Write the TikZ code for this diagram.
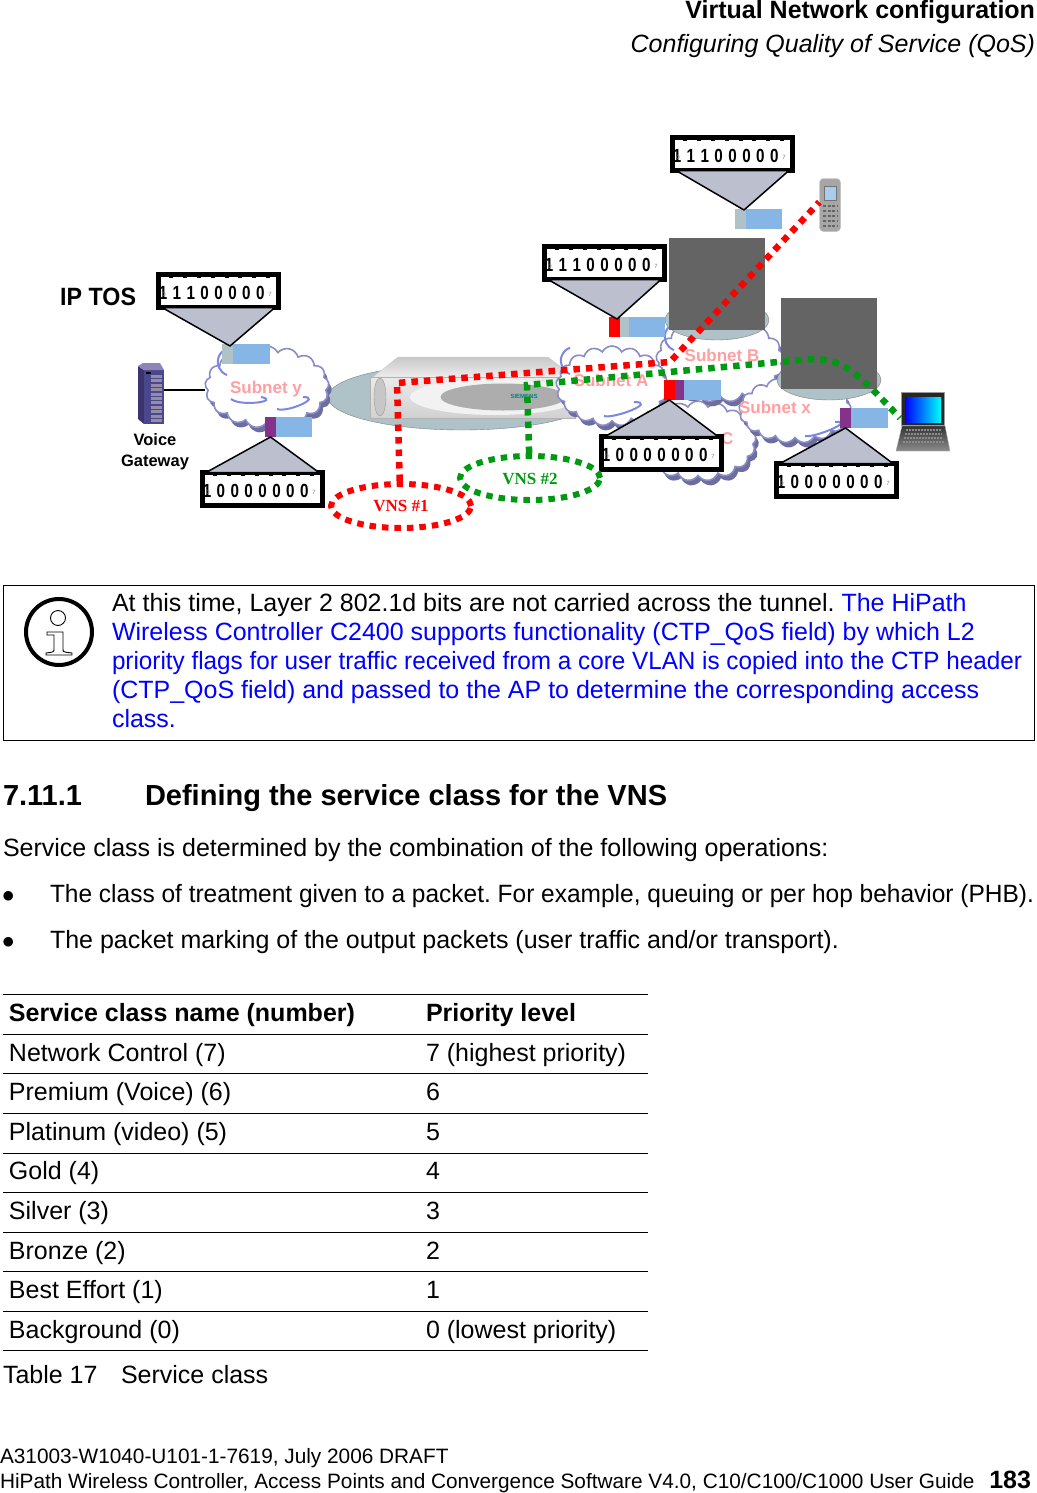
\documentclass[tikz,border=0pt]{standalone}
\usepackage{graphicx}
\usepackage{fontspec}
\setmainfont{Liberation Sans}
\newfontfamily\vnsfont{Liberation Serif}
\frenchspacing
\usetikzlibrary{shapes.geometric,shapes.symbols,positioning,calc,shadows}
\definecolor{flagblue}{HTML}{85B6E6}
\definecolor{flaggrey}{HTML}{AEC2C8}
\definecolor{flagpurple}{HTML}{84328A}
\definecolor{wedgegrey}{HTML}{BCC0CE}
\definecolor{netline}{HTML}{8A8CC8}
\definecolor{netshadow}{HTML}{6E6E9E}
\definecolor{netswirl}{HTML}{7C88E0}
\definecolor{subnetpink}{HTML}{FF9FA2}
\definecolor{vnsgreen}{HTML}{009A12}
\definecolor{darkbox}{HTML}{646464}
\definecolor{gwfront}{HTML}{4A478C}
\definecolor{gwside}{HTML}{3A3570}
\definecolor{gwtop}{HTML}{8F84B8}
\tikzset{
  txt/.style={inner sep=0pt, outer sep=0pt, anchor=base west, font=\fontsize{25}{29}\selectfont},
  flagpart/.style={inner sep=0pt, outer sep=0pt, minimum height=20pt, minimum width=11pt},
  tosframe/.style={draw=black, fill=white, line width=5pt, minimum width=120pt, minimum height=33pt, inner sep=0pt, outer sep=0pt},
  tosdigit/.style={inner sep=0pt, font=\fontsize{19}{19}\selectfont\bfseries},
  tostiny/.style={inner sep=0pt, text=gray, font=\fontsize{6}{6}\selectfont},
  wedge/.style={draw=black, fill=wedgegrey, line width=1.5pt, line join=round},
  subnet/.style={cloud, cloud puffs=17, cloud puff arc=125, draw=netline, fill=white, line width=1.6pt, inner sep=0pt,
    drop shadow={shadow xshift=3pt, shadow yshift=-5pt, opacity=1, fill=netshadow}},
  swirl/.style={draw=netswirl, line width=2pt},
  subnetlabel/.style={inner sep=0pt, text=subnetpink, font=\fontsize{17}{18}\selectfont\bfseries},
  vnsring/.style={ellipse, line width=6pt, dash pattern=on 6.5pt off 6pt, minimum width=140pt, minimum height=44pt, inner sep=0pt},
  vnsline/.style={line width=6.5pt, dash pattern=on 6.5pt off 6pt},
  vnslabel/.style={inner sep=0pt, font=\fontsize{17}{17}\selectfont\vnsfont\bfseries},
  tabrule/.style={draw=black, line width=0.8pt}
}
% box with the eight bits
\newcommand{\tosbox}[4]{
  \node[tosframe] (#1) at (#2,#3) {};
  \foreach \t in {1,...,8} {
    \fill ($(#1.north west)+(13.9*\t-3,0)$) rectangle +(4,3);
    \fill ($(#1.south west)+(13.9*\t-3,0)$) rectangle +(4,-3);
  }
  \foreach \b [count=\i] in {#4} {
    \node[tosdigit] (#1d\i) at ($(#1.west)+(13.9*\i-8.9,1.5)$) {\scalebox{0.8}[1]{\b}};
  }
  \node[tostiny] (#1lo) at ($(#1.west)+(6,3)$) {0};
  \node[tostiny] (#1hi) at ($(#1.east)+(-8,3)$) {7};
}
\newcommand{\tosfunnel}[3]{
  \draw[wedge] ($(#1.#2 west)+(4,0)$) -- (#3) -- ($(#1.#2 east)+(-3,0)$) -- cycle;
}
\begin{document}
\begin{tikzpicture}[x=1pt, y=-1pt]
  \useasboundingbox (0,0) rectangle (1036,1493);

  % page head
  \node[txt, anchor=base east, font=\fontsize{25}{29}\selectfont\bfseries] (headA) at (1035,19) {Virtual Network configuration};
  \node[txt, anchor=base east, font=\fontsize{25}{29}\selectfont\itshape] (headB) at (1035,53) {Configuring Quality of Service (QoS)};

  % controller on its disc
  \node[ellipse, fill=flaggrey, draw=gray, inner sep=0pt, minimum width=268pt, minimum height=66pt] (disc) at (462,397) {};
  \path[top color=black!22, bottom color=black!6, draw=black!20] (373,377) -- (398,357) -- (548,357) -- (575,378) -- cycle;
  \path[top color=black!8, bottom color=black!18, draw=black!30] (370,377) rectangle (575,418);
  \node[ellipse, fill=black!5, inner sep=0pt, minimum width=170pt, minimum height=36pt] (ctrlouter) at (495,397) {};
  \node[ellipse, fill=black!32, inner sep=0pt, minimum width=125pt, minimum height=27pt] (ctrlfront) at (503,397) {};
  \node[ellipse, fill=black!22, draw=black!40, inner sep=0pt, minimum width=12pt, minimum height=38pt] (ctrlside) at (380,397) {};
  \node[inner sep=0pt, text=teal, font=\fontsize{6}{6}\selectfont\bfseries] (ctrlname) at (524,396) {SIEMENS};

  % subnets
  \node[subnet, minimum width=124pt, minimum height=82pt] (netY) at (267,387) {};
  \node[subnet, minimum width=116pt, minimum height=80pt] (netC) at (698,441) {};
  \node[subnet, minimum width=128pt, minimum height=84pt] (netB) at (720,360) {};
  \node[subnet, minimum width=112pt, minimum height=66pt] (netX) at (795,410) {};
  \node[subnet, minimum width=112pt, minimum height=80pt] (netA) at (612,386) {};
  \draw[swirl] ($(netY.center)+(-40,-12)$) arc[start angle=110, end angle=250, radius=14];
  \draw[swirl] ($(netY.center)+(-36,12)$) .. controls +(10,8) and +(20,4) .. +(30,-2);
  \draw[swirl] ($(netY.center)+(10,22)$) .. controls +(10,4) and +(20,0) .. +(26,-12);
  \draw[swirl] ($(netA.center)+(-42,-12)$) arc[start angle=110, end angle=250, radius=14];
  \draw[swirl] ($(netA.center)+(-8,30)$) .. controls +(10,3) and +(24,0) .. +(30,-14);
  \draw[swirl] ($(netB.center)+(-46,-10)$) arc[start angle=110, end angle=250, radius=14];
  \draw[swirl] ($(netX.center)+(10,26)$) .. controls +(10,2) and +(22,-2) .. +(30,-14);
  \node[subnetlabel] (labY) at (266,389) {Subnet y};
  \node[subnetlabel] (labA) at (611,380) {Subnet A};
  \node[subnetlabel] (labB) at (722,355) {Subnet B};
  \node[subnetlabel] (labX) at (775,407) {Subnet x};
  \node[subnetlabel] (labC) at (696,438) {Subnet C};

  % access points
  \node[ellipse, fill=flaggrey, draw=gray, inner sep=0pt, minimum width=104pt, minimum height=40pt] (discB) at (717,320) {};
  \node[fill=darkbox, inner sep=0pt, minimum width=96pt, minimum height=92pt] (apB) at (717,284) {};
  \node[ellipse, fill=flaggrey, draw=gray, inner sep=0pt, minimum width=104pt, minimum height=40pt] (discX) at (829,380) {};
  \node[fill=darkbox, inner sep=0pt, minimum width=96pt, minimum height=91pt] (apX) at (829,343) {};

  % voice gateway
  \path[fill=gwside] (138,366) -- (144,370) -- (144,424) -- (138,419) -- cycle;
  \path[fill=gwfront] (144,370) rectangle (164,424);
  \path[fill=gwtop] (138,366) -- (143,363) -- (160,363) -- (164,370) -- (144,370) -- cycle;
  \fill[black] (146,372) rectangle (151,374);
  \foreach \b in {0,...,10} {
    \fill[black!30!gwtop!70!white] (151,375+4.4*\b) rectangle (162,378+4.4*\b);
  }
  \node[inner sep=0pt, minimum width=26pt, minimum height=61pt] (gw) at (151,393.5) {};
  \draw[line width=1.3pt] (gw.east |- 0,390) -- (netY.west |- 0,390);
  \node[inner sep=0pt, align=center, font=\fontsize{16.5}{21}\selectfont\bfseries, below=9pt of gw, xshift=4pt] (gwlabel) {Voice\\Gateway};

  % phone
  \node[draw=black!25, fill=black!35, rounded corners=4pt, inner sep=0pt, minimum width=21pt, minimum height=53pt] (phone) at (830,205) {};
  \node[fill=flagblue!70!white, draw=black!55, inner sep=0pt, minimum width=12pt, minimum height=14pt] (phonescr) at (830,193) {};
  \foreach \k in {0,...,4} {
    \draw[black!60, line width=1.5pt, dash pattern=on 3pt off 1.5pt] (823,206+5*\k) -- (838,206+5*\k);
  }

  % laptop
  \node[fill=black!85, draw=black!40, inner sep=0pt, minimum width=43pt, minimum height=33pt] (laptoplid) at (923,409) {};
  \node[inner sep=0pt, minimum width=36pt, minimum height=25pt, left color=blue, right color=cyan] (laptopscr) at (923,409.5) {};
  \path[top color=black!80, bottom color=black!45, draw=black!30] (902,426) -- (945,426) -- (950,451) -- (896,451) -- cycle;
  \foreach \k in {0,...,3} {
    \draw[black!45, line width=1.2pt, dash pattern=on 2pt off 1pt] (906-\k,430+4*\k) -- (941+\k,430+4*\k);
  }
  \coordinate (laptop) at (900,418);

  % flags and bits
  \tosbox{tosA}{218}{291}{1,1,1,0,0,0,0,0}
  \tosbox{tosB}{262}{489}{1,0,0,0,0,0,0,0}
  \tosbox{tosC}{732}{154}{1,1,1,0,0,0,0,0}
  \tosbox{tosD}{604}{263}{1,1,1,0,0,0,0,0}
  \tosbox{tosE}{661}{453}{1,0,0,0,0,0,0,0}
  \tosbox{tosF}{836}{480}{1,0,0,0,0,0,0,0}

  \node[flagpart, fill=flaggrey, anchor=north west] (flagA) at (222,344) {};
  \node[flagpart, fill=flagblue, minimum width=37pt, right=0pt of flagA] (flagAb) {};
  \node[flagpart, fill=flagpurple, anchor=north west] (flagB) at (265,417) {};
  \node[flagpart, fill=flagblue, minimum width=36pt, right=0pt of flagB] (flagBb) {};
  \node[flagpart, fill=flaggrey, anchor=north west] (flagC) at (735,209) {};
  \node[flagpart, fill=flagblue, minimum width=36pt, right=0pt of flagC] (flagCb) {};
  \node[flagpart, fill=red, anchor=north west] (flagD) at (609,317) {};
  \node[flagpart, fill=flaggrey, minimum width=9pt, right=0pt of flagD] (flagDa) {};
  \node[flagpart, fill=flagblue, minimum width=36pt, right=0pt of flagDa] (flagDb) {};
  \node[flagpart, fill=red, anchor=north west] (flagE) at (664,380) {};
  \node[flagpart, fill=flagpurple, minimum width=9pt, right=0pt of flagE] (flagEa) {};
  \node[flagpart, fill=flagblue, minimum width=37pt, right=0pt of flagEa] (flagEb) {};
  \node[flagpart, fill=flagpurple, anchor=north west] (flagF) at (840,408) {};
  \node[flagpart, fill=flagblue, minimum width=37pt, right=0pt of flagF] (flagFb) {};

  \tosfunnel{tosA}{south}{$(flagA.north east)+(-3,2)$}
  \tosfunnel{tosB}{north}{flagB.south}
  \tosfunnel{tosC}{south}{$(flagC.north east)+(-2,1)$}
  \tosfunnel{tosD}{south}{$(flagD.north east)+(-3,2)$}
  \tosfunnel{tosE}{north}{flagE.south}
  \tosfunnel{tosF}{north}{flagF.south}

  \node[inner sep=0pt, font=\fontsize{25}{25}\selectfont\bfseries, anchor=base west] (iptos) at (60,305) {\scalebox{0.93}[1]{IP TOS}};

  % the two VNS
  \node[vnsring, draw=red] (vnsA) at (401,506) {};
  \node[vnsring, draw=vnsgreen] (vnsB) at (530,478) {};
  \node[vnslabel, text=red] (vnsAlab) at (401,506) {VNS \#1};
  \node[vnslabel, text=vnsgreen] (vnsBlab) at (530,479) {VNS \#2};
  \coordinate (redbend) at (397,383);
  \coordinate (redtip) at (670,362);
  \coordinate (greenbend) at (527,385);
  \coordinate (greenmid) at (800,360);
  \draw[vnsline, draw=red] (vnsA.93) -- (redbend) -- (redtip) -- (phone.165);
  \draw[vnsline, draw=vnsgreen] (vnsB.92) -- (greenbend) -- (greenmid) .. controls (840,356) and (850,365) .. (laptop);

  % note
  \node[draw=black, line width=1pt, inner sep=0pt, outer sep=0pt, minimum width=1031pt, minimum height=155pt, anchor=north west] (notebox) at (3,585) {};
  \node[circle, draw=black, line width=4pt, inner sep=0pt, minimum size=66pt] (noteicon) at (59,632) {};
  \node[circle, draw=black, line width=0.9pt, inner sep=0pt, minimum size=15pt] (noteiconA) at (58,618) {};
  \draw[line width=0.9pt, fill=white] (47,632) -- (63,632) -- (63,649) .. controls (63,652) .. (72,653) -- (72,655) -- (46,655) -- (46,653) .. controls (54,652) .. (54,649) -- (54,635) -- (47,635) -- cycle;
  \node[txt, anchor=north west, align=left, font=\fontsize{25}{29}\selectfont] (notetext) at (112,593) {At this time, Layer 2 802.1d bits are not carried across the tunnel. \textcolor{blue}{The HiPath}\\
    \textcolor{blue}{Wireless Controller C2400 supports functionality (CTP\_QoS field) by which L2}\\
    \textcolor{blue}{\resizebox{910pt}{\height}{priority flags for user traffic received from a core VLAN is copied into the CTP header}}\\
    \textcolor{blue}{(CTP\_QoS field) and passed to the AP to determine the corresponding access}\\
    \textcolor{blue}{class.}};

  % section
  \node[txt, font=\fontsize{29}{29}\selectfont\bfseries] (secnum) at (3,805) {7.11.1};
  \node[txt, font=\fontsize{29}{29}\selectfont\bfseries] (sectitle) at (145,805) {Defining the service class for the VNS};
  \node[txt] (intro) at (3,856) {Service class is determined by the combination of the following operations:};
  \node[txt, font=\fontsize{30}{30}\selectfont] (dotA) at (2,902) {$\bullet$};
  \node[txt] (itemA) at (50,902) {\resizebox{984pt}{\height}{The class of treatment given to a packet. For example, queuing or per hop behavior (PHB).}};
  \node[txt, font=\fontsize{30}{30}\selectfont] (dotB) at (2,948) {$\bullet$};
  \node[txt] (itemB) at (50,948) {The packet marking of the output packets (user traffic and/or transport).};

  % table
  \node[txt, font=\fontsize{25}{29}\selectfont\bfseries] (thA) at (9,1021) {Service class name (number)};
  \node[txt, font=\fontsize{25}{29}\selectfont\bfseries] (thB) at (426,1021) {Priority level};
  \foreach \y in {994,1034,1073,1113,1153,1192,1232,1271,1311,1350} {
    \draw[tabrule] (3,\y) -- (648,\y);
  }
  \foreach \cname/\prio [count=\r] in {Network Control (7)/7 (highest priority), Premium (Voice) (6)/6, Platinum (video) (5)/5, Gold (4)/4, Silver (3)/3, Bronze (2)/2, Best Effort (1)/1, Background (0)/0 (lowest priority)} {
    \node[txt] (rowA\r) at (9,1021.5+39.6*\r) {\cname};
    \node[txt] (rowB\r) at (426,1021.5+39.6*\r) {\prio};
  }
  \node[txt] (capnum) at (3,1383) {Table 17};
  \node[txt] (captext) at (121,1383) {Service class};

  % page foot
  \node[txt, font=\fontsize{20.8}{25}\selectfont] (footA) at (0,1463) {A31003-W1040-U101-1-7619, July 2006 DRAFT};
  \node[txt, font=\fontsize{20.8}{25}\selectfont] (footB) at (0,1488) {HiPath Wireless Controller, Access Points and Convergence Software V4.0, C10/C100/C1000 User Guide};
  \node[txt, anchor=base east, font=\fontsize{25}{29}\selectfont\bfseries] (pageno) at (1031,1488) {183};
\end{tikzpicture}
\end{document}
